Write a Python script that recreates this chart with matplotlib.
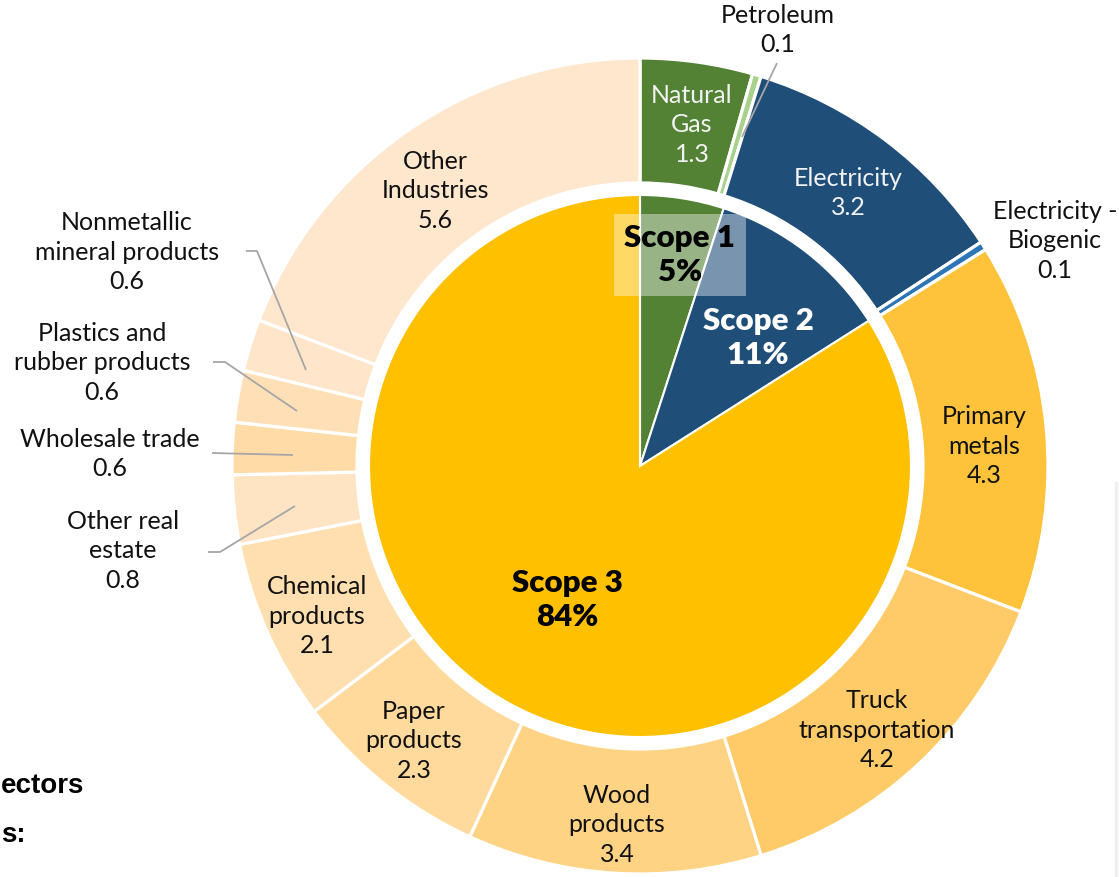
import matplotlib
matplotlib.use("Agg")
import matplotlib.pyplot as plt

# ---------------- data ----------------
scope_names = ["Scope 1", "Scope 2", "Scope 3"]
scope_pct = [5, 11, 84]
scope_colors = ["#548235", "#1F4E79", "#FFC000"]

sector_names = ["Natural\nGas", "Petroleum", "Electricity", "Electricity -\nBiogenic",
                "Primary\nmetals", "Truck\ntransportation", "Wood\nproducts",
                "Paper\nproducts", "Chemical\nproducts", "Other real\nestate",
                "Wholesale trade", "Plastics and\nrubber products",
                "Nonmetallic\nmineral products", "Other\nIndustries"]
sector_values = [1.3, 0.1, 3.2, 0.1, 4.3, 4.2, 3.4, 2.3, 2.1, 0.8, 0.6, 0.6, 0.6, 5.6]
sector_colors = ["#548235", "#A9D18E", "#1F4E79", "#2E75B6",
                 "#FFC33B", "#FFCB69", "#FFD384", "#FFDA9C", "#FFDFAF",
                 "#FFE4C3", "#FFDBA8", "#FFE0B6", "#FFE6CA", "#FFE7CE"]

W, H = 1119, 877
fig = plt.figure(figsize=(W / 100, H / 100), dpi=100)
ax = fig.add_axes([0, 0, 1, 1])

def Y(y):
    return H - y

cx, cy = 640, Y(466)
R_out, R_in_ring, R_pie = 408, 283, 271

ax.pie(sector_values, radius=R_out, center=(cx, cy), startangle=90, counterclock=False,
       colors=sector_colors, wedgeprops=dict(width=R_out - R_in_ring, edgecolor="white",
                                             linewidth=2.3))
ax.pie(scope_pct, radius=R_pie, center=(cx, cy), startangle=90, counterclock=False,
       colors=scope_colors, wedgeprops=dict(edgecolor="white", linewidth=1.5))

ax.set_xlim(0, W)
ax.set_ylim(0, H)
ax.set_aspect("equal")
ax.axis("off")

FONT = "Lato"
fs = 18

# sector label positions (pixel coords of text center)
pos = {
    0: (692, 125), 1: (778, 30), 2: (848, 193), 3: (1055, 241),
    4: (984, 446), 5: (877, 730), 6: (617, 825), 7: (414, 741),
    8: (317, 616), 9: (123, 551), 10: (110, 454), 11: (102, 363),
    12: (127, 252), 13: (435, 191),
}
white_txt = {0, 2}
for i, (name, val) in enumerate(zip(sector_names, sector_values)):
    x, y = pos[i]
    ax.text(x, Y(y), f"{name}\n{val:.1f}", ha="center", va="center", fontsize=fs,
            family=FONT, color="#F2F2F2" if i in white_txt else "#111111",
            linespacing=1.33)

# leader lines
leaders = [
    [(777, 63), (742, 137)],
    [(208, 552), (220, 552), (295, 506)],
    [(212, 453), (293, 455)],
    [(213, 362), (225, 362), (297, 411)],
    [(246, 251), (257, 251), (306, 370)],
]
for pts in leaders:
    ax.plot([p[0] for p in pts], [Y(p[1]) for p in pts], color="#A6A6A6", lw=1.3,
            solid_capstyle="butt")

# scope labels
sfs = 22.5
ax.text(680, Y(255), f"{scope_names[0]}\n{scope_pct[0]}%", ha="center", va="center",
        fontsize=sfs, family=FONT, fontweight="heavy", color="black", linespacing=1.22,
        bbox=dict(boxstyle="square,pad=0.35", facecolor="white", alpha=0.4,
                  edgecolor="none"))
ax.text(758, Y(338), f"{scope_names[1]}\n{scope_pct[1]}%", ha="center", va="center",
        fontsize=sfs, family=FONT, fontweight="heavy", color="white", linespacing=1.22)
ax.text(567, Y(600), f"{scope_names[2]}\n{scope_pct[2]}%", ha="center", va="center",
        fontsize=sfs, family=FONT, fontweight="heavy", color="black", linespacing=1.22)

# fragments at the left and right edge
ax.text(1, Y(786), "ectors", ha="left", va="center", fontsize=20,
        family=["Liberation Sans", "DejaVu Sans"], fontweight="bold", color="black")
ax.text(1, Y(835), "s:", ha="left", va="center", fontsize=20,
        family=["Liberation Sans", "DejaVu Sans"], fontweight="bold", color="black")
ax.plot([1116, 1116], [Y(483), Y(877)], color="#EFEFEF", lw=2.5)

fig.savefig("out.png", dpi=100)
